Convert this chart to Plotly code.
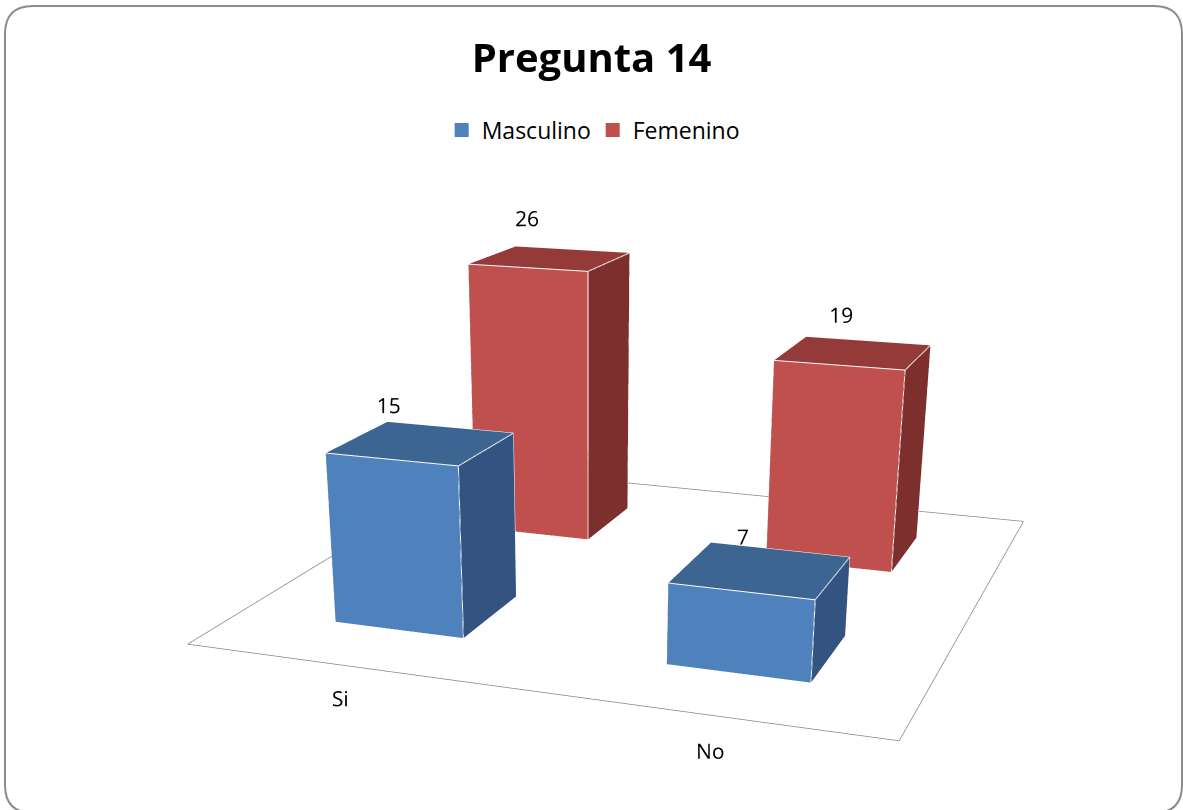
import plotly.graph_objects as go

categories = ["Si", "No"]
series_names = ["Masculino", "Femenino"]
masculino = [15, 7]
femenino = [26, 19]
values = [masculino, femenino]

front_colors = ["#4F81BD", "#C0504D"]
top_colors = ["#3D6591", "#943B39"]
side_colors = ["#335480", "#7C2F2D"]

FIG_W, VIEW_H = 1183, 810
FIG_H = 1575          # tall canvas so the 3D camera gets a narrow field of view; page is clipped to 810 px
GAP_X, GAP_Y = 0.30, 0.307   # gap on each side of a bar (category / series units)
FONT = "Open Sans"

# camera fitted for axis ranges x[0,2], y[0,2], z[0,30]
BASE_RANGES = dict(x=(0, 2), y=(0, 2), z=(0, 30))
BASE_ASPECT = dict(x=1.0, y=1.0084, z=0.4925)
BASE_EYE = dict(x=0.8873, y=-2.6486, z=0.6603)
BASE_CENTER = dict(x=0.1109, y=-0.5384, z=-0.3552)
# wider ranges so that labels outside the floor / above the bars are not clipped
RANGES = dict(x=(0, 2), y=(-0.4, 2), z=(0, 36))

aspect, eye, center = {}, {}, {}
for a in "xyz":
    lo, hi = BASE_RANGES[a]
    lo2, hi2 = RANGES[a]
    m, L, m2, L2 = (lo + hi) / 2, hi - lo, (lo2 + hi2) / 2, hi2 - lo2
    shift = (m - m2) / L * BASE_ASPECT[a]
    aspect[a] = BASE_ASPECT[a] * L2 / L
    eye[a] = BASE_EYE[a] + shift
    center[a] = BASE_CENTER[a] + shift

def py(px):
    """pixel row from the top of the visible page -> paper fraction"""
    return 1 - px / FIG_H

fig = go.Figure()

# cuboid faces: bottom, top, front, back, left, right
I = [0, 0, 4, 4, 0, 0, 3, 3, 0, 0, 1, 1]
J = [1, 2, 5, 6, 1, 5, 2, 6, 3, 7, 2, 6]
K = [2, 3, 6, 7, 5, 4, 6, 7, 7, 4, 6, 5]
EDGES = [(0, 1), (1, 2), (2, 3), (3, 0), (4, 5), (5, 6), (6, 7), (7, 4),
         (0, 4), (1, 5), (2, 6), (3, 7)]

for s, name in enumerate(series_names):
    for c, cat in enumerate(categories):
        v = values[s][c]
        x0, x1 = c + GAP_X, c + 1 - GAP_X
        y0, y1 = s + GAP_Y, s + 1 - GAP_Y
        xs = [x0, x1, x1, x0, x0, x1, x1, x0]
        ys = [y0, y0, y1, y1, y0, y0, y1, y1]
        zs = [0, 0, 0, 0, v, v, v, v]
        fc = [side_colors[s]] * 2 + [top_colors[s]] * 2 + [front_colors[s]] * 2 + \
             [side_colors[s]] * 6
        fig.add_trace(go.Mesh3d(
            x=xs, y=ys, z=zs, i=I, j=J, k=K, facecolor=fc, flatshading=True,
            lighting=dict(ambient=1, diffuse=0, specular=0, roughness=1, fresnel=0),
            hoverinfo="skip", showlegend=False))
        ex, ey, ez = [], [], []
        for a, b in EDGES:
            ex += [xs[a], xs[b], None]
            ey += [ys[a], ys[b], None]
            ez += [zs[a], zs[b], None]
        fig.add_trace(go.Scatter3d(x=ex, y=ey, z=ez, mode="lines",
                                   line=dict(color="white", width=2),
                                   hoverinfo="skip", showlegend=False))
        fig.add_trace(go.Scatter3d(
            x=[c + 0.5], y=[y0], z=[v + 4.5], mode="text", text=[str(v)],
            textposition="middle center",
            textfont=dict(family=FONT, size=21, color="black"),
            hoverinfo="skip", showlegend=False))

# floor outline
fig.add_trace(go.Scatter3d(
    x=[0, 2, 2, 0, 0], y=[0, 0, 2, 2, 0], z=[0, 0, 0, 0, 0], mode="lines",
    line=dict(color="#858585", width=1.5), hoverinfo="skip", showlegend=False))

# category labels
fig.add_trace(go.Scatter3d(
    x=[c + 0.585 for c in range(len(categories))], y=[-0.22] * len(categories),
    z=[0] * len(categories), mode="text", text=categories, textposition="middle center",
    textfont=dict(family=FONT, size=21, color="black"),
    hoverinfo="skip", showlegend=False))

# legend entries
for s, name in enumerate(series_names):
    fig.add_trace(go.Scatter(x=[None], y=[None], mode="markers", name=name,
                             marker=dict(symbol="square", size=14, color=front_colors[s])))

R = 28  # corner radius of the chart border, px
bx0, bx1, by0, by1 = 5, 1182, 6, 813
border = ("M {a},{b} Q {c},{b} {c},{d} L {c},{e} Q {c},{f} {g},{f} L {h},{f} "
          "Q {i},{f} {i},{e} L {i},{d} Q {i},{b} {h},{b} Z").format(
    a=(bx0 + R) / FIG_W, b=py(by0), c=bx0 / FIG_W, d=py(by0 + R), e=py(by1 - R),
    f=py(by1), g=(bx0 + R) / FIG_W, h=(bx1 - R) / FIG_W, i=bx1 / FIG_W)

fig.update_layout(
    width=FIG_W, height=FIG_H,
    margin=dict(l=0, r=0, t=0, b=0),
    paper_bgcolor="white", plot_bgcolor="rgba(0,0,0,0)",
    title=dict(text="<b>Pregunta 14</b>", x=0.5, xanchor="center", y=py(58), yanchor="middle",
               font=dict(family=FONT, size=40, color="black")),
    legend=dict(orientation="h", x=0.501, xanchor="center", y=py(130), yanchor="middle",
                font=dict(family=FONT, size=23, color="black"), itemwidth=30,
                entrywidth=106, entrywidthmode="pixels"),
    xaxis=dict(visible=False), yaxis=dict(visible=False),
    scene=dict(
        domain=dict(x=[0, 1], y=[0, 1]),
        xaxis=dict(visible=False, range=list(RANGES["x"])),
        yaxis=dict(visible=False, range=list(RANGES["y"])),
        zaxis=dict(visible=False, range=list(RANGES["z"])),
        aspectmode="manual", aspectratio=aspect,
        camera=dict(eye=eye, center=center, up=dict(x=0, y=0, z=1),
                    projection=dict(type="perspective")),
        bgcolor="rgba(0,0,0,0)",
    ),
    shapes=[dict(type="path", xref="paper", yref="paper", path=border,
                 line=dict(color="#8C8C8C", width=2), fillcolor="rgba(0,0,0,0)")],
)

clip = ("var gd=document.getElementById('{plot_id}');"
        "gd.parentElement.style.height='%dpx';gd.parentElement.style.overflow='hidden';"
        "document.body.style.margin='0';document.body.style.overflow='hidden';"
        "document.documentElement.style.overflow='hidden';") % VIEW_H

fig.write_html("out.html", post_script=clip)
